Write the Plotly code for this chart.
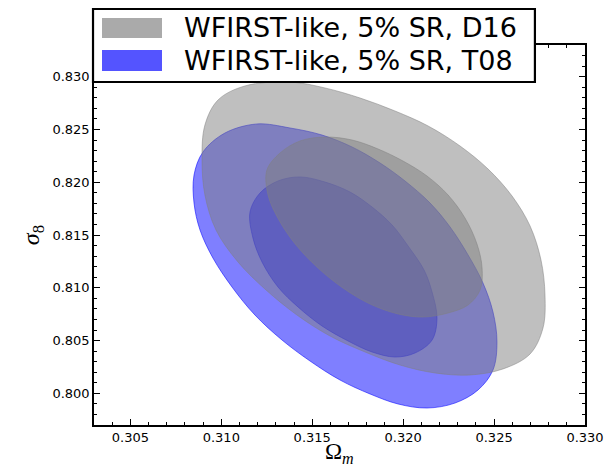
import plotly.graph_objects as go

# ---- data ----
x_range = [0.303, 0.330]
y_range = [0.797, 0.833]
x_ticks = [0.305, 0.310, 0.315, 0.320, 0.325, 0.330]
y_ticks = [0.800, 0.805, 0.810, 0.815, 0.820, 0.825, 0.830]

labels = ["WFIRST-like, 5% SR, D16", "WFIRST-like, 5% SR, T08"]
x_title = "Ω<sub><i>m</i></sub>"
y_title = "<i>σ</i><sub>8</sub>"

# D16 (gray) 95% contour
d16_outer_om = [0.31378, 0.31570, 0.31763, 0.31955, 0.32137, 0.32313, 0.32467, 0.32599,
                0.32698, 0.32758, 0.32780, 0.32769, 0.32698, 0.32549, 0.32368, 0.32175,
                0.31983, 0.31790, 0.31598, 0.31416, 0.31246, 0.31092, 0.30971, 0.30910,
                0.30894, 0.30910, 0.30982, 0.31130]
d16_outer_s8 = [0.82949, 0.82893, 0.82798, 0.82675, 0.82533, 0.82343, 0.82125, 0.81869,
                0.81585, 0.81263, 0.80932, 0.80619, 0.80373, 0.80231, 0.80174, 0.80193,
                0.80268, 0.80392, 0.80543, 0.80742, 0.80979, 0.81244, 0.81547, 0.81879,
                0.82211, 0.82542, 0.82779, 0.82912]
# D16 (gray) 68% contour
d16_inner_om = [0.31251, 0.31323, 0.31433, 0.31570, 0.31719, 0.31862, 0.31999, 0.32131,
                0.32247, 0.32340, 0.32406, 0.32434, 0.32423, 0.32357, 0.32247, 0.32109,
                0.31972, 0.31818, 0.31669, 0.31532, 0.31411, 0.31317, 0.31257]
d16_inner_s8 = [0.82116, 0.82277, 0.82391, 0.82428, 0.82400, 0.82315, 0.82201, 0.82059,
                0.81879, 0.81661, 0.81415, 0.81187, 0.80979, 0.80837, 0.80761, 0.80723,
                0.80752, 0.80846, 0.80998, 0.81187, 0.81405, 0.81642, 0.81879]
# T08 (blue) 95% contour
t08_outer_om = [0.31196, 0.31378, 0.31554, 0.31719, 0.31873, 0.32010, 0.32148, 0.32258,
                0.32357, 0.32439, 0.32494, 0.32516, 0.32494, 0.32412, 0.32285, 0.32131,
                0.31972, 0.31818, 0.31653, 0.31488, 0.31334, 0.31185, 0.31059, 0.30954,
                0.30883, 0.30850, 0.30850, 0.30899, 0.31020]
t08_outer_s8 = [0.82552, 0.82514, 0.82447, 0.82334, 0.82182, 0.82012, 0.81803, 0.81576,
                0.81311, 0.81045, 0.80771, 0.80486, 0.80221, 0.80032, 0.79908, 0.79861,
                0.79899, 0.79994, 0.80126, 0.80306, 0.80505, 0.80742, 0.81007, 0.81282,
                0.81547, 0.81803, 0.82068, 0.82286, 0.82466]
# T08 (blue) 68% contour
t08_inner_om = [0.31158, 0.31213, 0.31312, 0.31433, 0.31570, 0.31708, 0.31829, 0.31939,
                0.32027, 0.32115, 0.32159, 0.32186, 0.32159, 0.32065, 0.31955, 0.31829,
                0.31697, 0.31554, 0.31422, 0.31312, 0.31224, 0.31174]
t08_inner_s8 = [0.81718, 0.81898, 0.82012, 0.82050, 0.82002, 0.81907, 0.81765, 0.81595,
                0.81396, 0.81168, 0.80960, 0.80714, 0.80505, 0.80382, 0.80344, 0.80392,
                0.80496, 0.80638, 0.80818, 0.81007, 0.81244, 0.81472]


def closed(a):
    return list(a) + [a[0]]


fig = go.Figure()

blue_fill = "rgba(0,0,255,0.5)"
blue_line = "rgba(0,0,255,0.55)"
gray_fill = "rgba(128,128,128,0.5)"
gray_line = "rgba(128,128,128,0.5)"

for om, s8, fc, lc in [
    (t08_outer_om, t08_outer_s8, blue_fill, blue_line),
    (t08_inner_om, t08_inner_s8, blue_fill, blue_line),
    (d16_outer_om, d16_outer_s8, gray_fill, gray_line),
    (d16_inner_om, d16_inner_s8, gray_fill, gray_line),
]:
    fig.add_trace(go.Scatter(
        x=closed(om), y=closed(s8), mode="lines", fill="toself",
        fillcolor=fc, line=dict(color=lc, width=1, shape="spline", smoothing=1.0),
        showlegend=False, hoverinfo="skip"))

axis_common = dict(
    showline=True, linecolor="black", linewidth=1.5, mirror="allticks",
    ticks="inside", ticklen=6, tickwidth=1, tickcolor="black",
    showgrid=False, zeroline=False, automargin=False,
    tickfont=dict(family="DejaVu Sans", size=13, color="black"),
    minor=dict(ticks="inside", ticklen=3, tickwidth=1, dtick=0.001, tickcolor="black", showgrid=False),
)

fig.update_xaxes(range=x_range, tickvals=x_ticks, ticktext=[f"{v:.3f}" for v in x_ticks],
                 **axis_common)
fig.update_yaxes(range=y_range, tickvals=y_ticks, ticktext=[f"{v:.3f}" for v in y_ticks],
                 title=dict(text=y_title, font=dict(family="Liberation Serif", size=24, color="black"), standoff=6),
                 **axis_common)

# ---- legend drawn by hand (box, patches, text) ----
shapes = [
    dict(type="rect", xref="paper", yref="paper", x0=-0.002, x1=0.898, y0=0.9026, y1=1.0947,
         line=dict(color="black", width=2.2), fillcolor="white", layer="above"),
    dict(type="rect", xref="paper", yref="paper", x0=0.0163, x1=0.1385, y0=1.0184, y1=1.0711,
         line=dict(width=0), fillcolor="rgba(128,128,128,0.67)", layer="above"),
    dict(type="rect", xref="paper", yref="paper", x0=0.0163, x1=0.1385, y0=0.9316, y1=0.9868,
         line=dict(width=0), fillcolor="rgba(0,0,255,0.67)", layer="above"),
]
annotations = [
    dict(xref="paper", yref="paper", x=0.179, y=1.047, text=labels[0], showarrow=False,
         xanchor="left", yanchor="middle", font=dict(family="DejaVu Sans", size=27, color="black")),
    dict(xref="paper", yref="paper", x=0.179, y=0.9605, text=labels[1], showarrow=False,
         xanchor="left", yanchor="middle", font=dict(family="DejaVu Sans", size=27, color="black")),
    # x-axis title
    dict(xref="paper", yref="paper", x=0.501, y=-0.074, text=x_title, showarrow=False,
         xanchor="center", yanchor="middle", font=dict(family="Liberation Serif", size=23, color="black")),
]

fig.update_layout(
    width=607, height=468,
    margin=dict(l=94, r=22, t=45, b=43),
    plot_bgcolor="white", paper_bgcolor="white",
    shapes=shapes, annotations=annotations,
    showlegend=False,
)

fig.write_html("out.html")
